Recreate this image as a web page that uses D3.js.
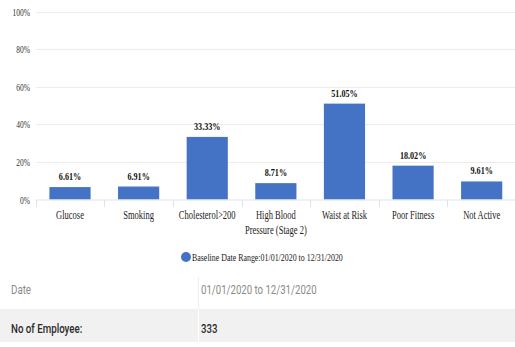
<!DOCTYPE html>
<html><head><meta charset="utf-8">
<script src="https://cdn.jsdelivr.net/npm/d3@7"></script>
<style>
html,body{margin:0;padding:0;background:#fff;}
svg{display:block;}
</style></head>
<body>
<svg id="c" width="515" height="347"></svg>
<script>
const categories = [["Glucose"],["Smoking"],["Cholesterol>200"],["High Blood","Pressure (Stage 2)"],["Waist at Risk"],["Poor Fitness"],["Not Active"]];
const values = [6.61, 6.91, 33.33, 8.71, 51.05, 18.02, 9.61];
const yTicks = [0, 20, 40, 60, 80, 100];
const legendLabel = "Baseline Date Range:01/01/2020 to 12/31/2020";
const tableRows = [["Date", "01/01/2020 to 12/31/2020"], ["No of Employee:", "333"]];

const svg = d3.select("#c");
const serif = "'Liberation Serif','Times New Roman',serif";
const sans = "Roboto,'Noto Sans',sans-serif";

const x = d3.scaleBand().domain(d3.range(categories.length)).range([35.7, 516]).paddingInner(0.4).paddingOuter(0.2);
const y = d3.scaleLinear().domain([0, 100]).range([199.5, 11.7]);

function sText(g, tx, ty, str, opts) {
  return g.append("text")
    .attr("transform", `translate(${tx},${ty}) scale(${opts.sx||0.75},1)`)
    .attr("text-anchor", opts.anchor || "middle")
    .attr("font-family", opts.font || serif)
    .attr("font-size", opts.size || 11)
    .attr("font-weight", opts.weight || "normal")
    .attr("fill", opts.fill || "#333")
    .text(str);
}

// gridlines
const grid = svg.append("g");
grid.selectAll("line").data(yTicks.filter(d => d > 0)).join("line")
  .attr("x1", 35.7).attr("x2", 515)
  .attr("y1", d => Math.round(y(d)) + 0.5).attr("y2", d => Math.round(y(d)) + 0.5)
  .attr("stroke", "#ececec").attr("stroke-width", 1);

// y labels
const yl = svg.append("g");
yTicks.forEach(d => sText(yl, 30, y(d) + 4, d + "%", {anchor: "end", size: 11, sx: 0.68, fill: "#333"}));

// bars
svg.append("g").selectAll("rect").data(values).join("rect")
  .attr("x", (d, i) => x(i)).attr("width", x.bandwidth())
  .attr("y", d => y(d)).attr("height", d => y(0) - y(d))
  .attr("fill", "#4472c4");

// x axis line + ticks
const ax = svg.append("g");
ax.append("line").attr("x1", 35.7).attr("x2", 515).attr("y1", 200).attr("y2", 200).attr("stroke", "#dde3ee");
const step = x.step();
d3.range(categories.length + 1).forEach(i => {
  const xx = Math.round(35.7 + i * step) + 0.5;
  ax.append("line").attr("x1", xx).attr("x2", xx).attr("y1", 200).attr("y2", 207).attr("stroke", "#dde3ee");
});

// category labels
const cl = svg.append("g");
categories.forEach((lines, i) => {
  const cx = x(i) + x.bandwidth() / 2;
  lines.forEach((ln, j) => sText(cl, cx, 219 + j * 15, ln, {size: 11.5, sx: 0.74, fill: "#222"}));
});

// value labels
const vl = svg.append("g");
values.forEach((v, i) => sText(vl, x(i) + x.bandwidth() / 2, y(v) - 7, v.toFixed(2) + "%", {size: 11, sx: 0.74, weight: "bold", fill: "#111"}));

// legend
const lg = svg.append("g");
lg.append("circle").attr("cx", 186).attr("cy", 257).attr("r", 5).attr("fill", "#4472c4");
sText(lg, 192, 261, legendLabel, {anchor: "start", size: 11, sx: 0.72, fill: "#222"});

// table
const tb = svg.append("g");
tb.append("rect").attr("x", 0).attr("y", 309).attr("width", 515).attr("height", 33).attr("fill", "#f1f1f1");
tb.append("line").attr("x1", 198.5).attr("x2", 198.5).attr("y1", 277).attr("y2", 309).attr("stroke", "#eeeeee");
tb.append("line").attr("x1", 198.5).attr("x2", 198.5).attr("y1", 309).attr("y2", 342).attr("stroke", "#ffffff");
tableRows.forEach((r, i) => {
  const ty = 294 + i * 39;
  const col = i === 0 ? "#8a8a8a" : "#2b2b2b";
  const w = i === 0 ? "normal" : 500;
  sText(tb, 11, ty, r[0], {anchor: "start", font: sans, size: 12.5, sx: 0.78, fill: col, weight: w});
  sText(tb, 201, ty, r[1], {anchor: "start", font: sans, size: 12.5, sx: 0.77, fill: col, weight: w});
});
</script>
</body></html>
